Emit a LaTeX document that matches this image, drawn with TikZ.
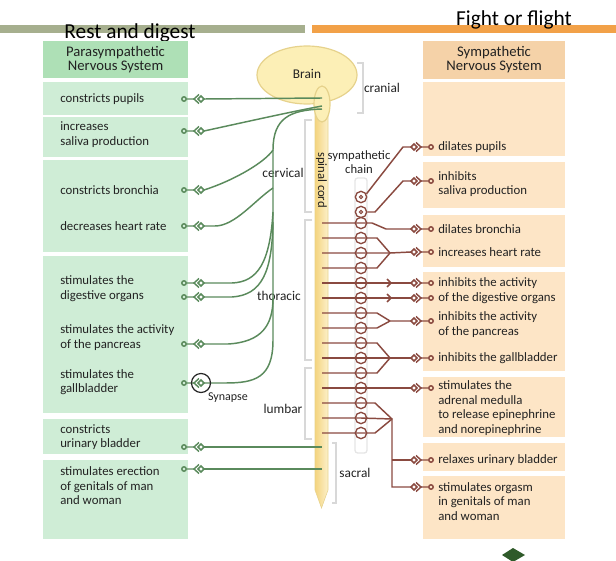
\documentclass[tikz,border=0pt]{standalone}
\usepackage{fontspec}
\setmainfont{Carlito}
\usetikzlibrary{calc}
\definecolor{bargreen}{HTML}{A6AF8E}
\definecolor{barorange}{HTML}{F2A148}
\definecolor{parahead}{HTML}{AEE0B6}
\definecolor{parabody}{HTML}{CFEDD6}
\definecolor{symphead}{HTML}{F5D2A8}
\definecolor{sympbody}{HTML}{FDE5C6}
\definecolor{paranerve}{HTML}{5A8A5C}
\definecolor{sympnerve}{HTML}{8A4A40}
\definecolor{brainfill}{HTML}{FCEFB6}
\definecolor{brainedge}{HTML}{E6D28C}
\definecolor{cordleft}{HTML}{F4D47E}
\definecolor{cordright}{HTML}{FCF0CA}
\definecolor{inktext}{HTML}{222222}
\definecolor{bracketgray}{HTML}{D8D8D8}
\definecolor{logogreen}{HTML}{2F5A2A}
\tikzset{
  pnerve/.style={draw=paranerve, line width=1.1pt},
  snerve/.style={draw=sympnerve, line width=1.1pt},
  effect/.style={anchor=west, align=left, inner sep=0pt, text=inktext, font=\fontsize{9.6}{10.9}\selectfont},
  regiontxt/.style={inner sep=0pt, text=inktext, font=\fontsize{10}{11.2}\selectfont},
  headtxt/.style={align=center, inner sep=0pt, text=inktext, font=\fontsize{11}{10.5}\selectfont},
  titletxt/.style={inner sep=0pt, text=black, font=\fontsize{16}{18}\selectfont},
  bracket/.style={draw=bracketgray, line width=0.9pt},
  ganglion/.style={circle, draw=sympnerve, line width=1pt, minimum size=8.5pt, inner sep=0pt}
}
% axon ending on the parasympathetic side, #1 = tip of the knob
\def\paraend(#1){%
  \draw[pnerve] ($(#1)+(-20,0)$) circle (2.2) ($(#1)+(-17.8,0)$) -- ($(#1)+(-10,0)$);
  \draw[pnerve, fill=white] ($(#1)+(-6,0)$) -- ($(#1)+(-3,-3)$) -- (#1) -- ($(#1)+(-3,3)$) -- cycle;
  \draw[pnerve] ($(#1)+(-5,-4.5)$) -- ($(#1)+(-10,0)$) -- ($(#1)+(-5,4.5)$);}
% same ending on the sympathetic side
\def\sympend(#1){%
  \draw[snerve, fill=white] (#1) -- ($(#1)+(3,-3)$) -- ($(#1)+(6,0)$) -- ($(#1)+(3,3)$) -- cycle;
  \draw[snerve] ($(#1)+(5,-4.5)$) -- ($(#1)+(10,0)$) -- ($(#1)+(5,4.5)$);
  \draw[snerve] ($(#1)+(10,0)$) -- ($(#1)+(17.8,0)$) ($(#1)+(20,0)$) circle (2.2);}
\def\midsyn(#1){%
  \draw[snerve] ($(#1)+(-3,-4)$) -- ($(#1)+(1,0)$) -- ($(#1)+(-3,4)$);}

\begin{document}
\begin{tikzpicture}[x=0.75pt, y=-0.75pt]
%%%%% START %%%%%
\useasboundingbox (0,0) rectangle (616,560);

\fill[bargreen] (0,25) rectangle (305,33);
\fill[barorange] (312,25) rectangle (616,33);
\node[titletxt, anchor=base] (rest) at (130,39) {Rest and digest};
\node[titletxt, anchor=base] (fight) at (514,26) {Fight or flight};

% columns
\fill[parahead] (43,41) rectangle (188,78);
\foreach \t/\b in {82/115,117/157,160/252,256/413,419/454,460/539}
  \fill[parabody] (43,\t) rectangle (188,\b);
\node[headtxt] (parahd) at (115.5,60) {Parasympathetic\\Nervous System};

\fill[symphead] (423,41) rectangle (565,79);
\foreach \t/\b in {82/156,162/208,215/267,272/371,377/437,443/471,476/539}
  \fill[sympbody] (423,\t) rectangle (565,\b);
\node[headtxt] (symphd) at (494,60) {Sympathetic\\Nervous System};

% brain and cord
\draw[brainedge, fill=brainfill, line width=0.9pt] (307,75) ellipse [x radius=50, y radius=29];
\node[regiontxt] (brain) at (307,74) {Brain};
\draw[draw=brainedge, left color=cordleft, right color=cordright] (315,112) -- (315,490) -- (321.5,508) -- (328,490) -- (328,112) -- cycle;
\draw[brainedge, fill=brainfill, line width=0.9pt] (322,104) ellipse [x radius=8, y radius=18];
\node[regiontxt, rotate=-90, font=\fontsize{9.5}{10}\selectfont] (cord) at (321.5,180) {spinal cord};

\draw[bracket] (357,63) -- (363,63) -- (363,113) -- (357,113);
\draw[bracket] (312,120) -- (305,120) -- (305,212) -- (312,212);
\draw[bracket] (312,220) -- (305,220) -- (305,360) -- (312,360);
\draw[bracket] (312,368) -- (305,368) -- (305,439) -- (312,439);
\draw[bracket] (332,443) -- (336,443) -- (336,503) -- (332,503);
\node[regiontxt] (cranial) at (382,88) {cranial};
\node[regiontxt] (cervical) at (283,173) {cervical};
\node[regiontxt] (thoracic) at (279,296) {thoracic};
\node[regiontxt] (lumbar) at (283,409) {lumbar};
\node[regiontxt] (sacral) at (355,473) {sacral};
\node[regiontxt, align=center, font=\fontsize{9.5}{11}\selectfont] (chain) at (359,162) {sympathetic\\chain};
\draw[draw=black!10, line width=1pt, rounded corners=2] (355,178) rectangle (367,453);

% parasympathetic nerves
\foreach \k/\y in {1/99,2/131,3/190,4/226,5/283,6/297,7/344,8/383,9/447,10/469}
  \coordinate (L\k) at (204,\y);
\coordinate (bs1) at (322,98);
\coordinate (bs2) at (322,106);
\coordinate (bs3) at (322,109);
\coordinate (sc1) at (322,447);
\coordinate (sc2) at (322,469);
\coordinate (vtop) at (273,150);
\coordinate (vbot) at (273,340);
\coordinate (jheart) at (273,188);
\coordinate (jdig1) at (273,212);
\coordinate (jdig2) at (273,222);
\coordinate (jpanc) at (273,298);

\draw[pnerve] (L1) -- (bs1);
\draw[pnerve] (L2) .. controls (250,121) and (290,112) .. (bs2);
\draw[pnerve] (bs3) .. controls (290,110) and (273,118) .. (vtop) -- (vbot) .. controls (273,378) and (255,383) .. (225,383) -- (L8);
\draw[pnerve] (L3) .. controls (235,180) and (265,162) .. (vtop);
\draw[pnerve] (L4) -- (215,226) .. controls (235,226) and (255,200) .. (jheart);
\draw[pnerve] (L5) -- (232,283) .. controls (258,282) and (270,262) .. (jdig1);
\draw[pnerve] (L6) -- (232,297) .. controls (262,295) and (272,272) .. (jdig2);
\draw[pnerve] (L7) -- (228,344) .. controls (262,342) and (273,325) .. (jpanc);
\draw[pnerve] (L9) -- (sc1);
\draw[pnerve] (L10) -- (sc2);
\foreach \k in {1,...,10} {\paraend(L\k)}
\draw[black!85, line width=0.9pt] (201,383) circle (9.5);
\node[regiontxt, font=\fontsize{9}{10}\selectfont] (synapse) at (228,398) {Synapse};

% sympathetic nerves
\node[ganglion] (gA) at (361,197) {};
\node[ganglion] (gB) at (361,212) {};
\draw[snerve, line width=0.8pt] (gA.center) circle (1.6) (gB.center) circle (1.6);
\foreach \r [count=\k] in {223,238,...,433} {
  \coordinate (c\k) at (322,\r);
  \node[ganglion] (g\k) at (361,\r) {};
}
\foreach \k/\y in {1/147,2/181,3/229,4/252,5/283,6/298,7/321,8/358,9/388,10/460,11/487}
  \coordinate (R\k) at (411,\y);
\coordinate (m1) at (390,253);
\coordinate (m2) at (390,321);
\coordinate (m3) at (390,358);
\coordinate (m4) at (392,419);
\coordinate (m4a) at (392,460);
\coordinate (m4b) at (392,487);

\draw[snerve] (gA.30) -- (403,147) -- (R1);
\draw[snerve] (gB.east) -- (375,212) -- (403,181) -- (R2);
\draw[snerve] (c1) -- (g1.center) -- (372,223) -- (386,229) -- (R3);
\draw[snerve] (c2) -- (g2.center) -- (377,238) -- (m1);
\draw[snerve] (c3) -- (g3.center) -- (m1) -- (R4);
\draw[snerve] (c4) -- (g4.center) -- (377,268) -- (m1);
\draw[snerve] (c5) -- (g5.center) -- (R5);
\draw[snerve] (c6) -- (g6.center) -- (R6);
\draw[snerve] (c7) -- (g7.center) -- (377,313) -- (m2) -- (R7);
\draw[snerve] (c8) -- (g8.center) -- (377,328) -- (m2);
\draw[snerve] (c9) -- (g9.center) -- (377,343) -- (m3);
\draw[snerve] (c10) -- (g10.center) -- (m3) -- (R8);
\draw[snerve] (c11) -- (g11.center) -- (377,373) -- (m3);
\draw[snerve] (c12) -- (g12.center) -- (R9);
\draw[snerve] (c13) -- (g13.center) -- (375,403) -- (m4);
\draw[snerve] (c14) -- (g14.center) -- (m4) -- (m4b) -- (R11);
\draw[snerve] (c15) -- (g15.center) -- (375,433) -- (m4);
\draw[snerve] (m4a) -- (R10);
\midsyn(390,283)
\midsyn(390,298)
\foreach \k in {1,...,11} {\sympend(R\k)}

% effects
\node[effect] (pupilsP) at (60,99) {constricts pupils};
\node[effect] (salivaP) at (60,134.5) {increases\\saliva production};
\node[effect] (bronchP) at (60,190) {constricts bronchia};
\node[effect] (heartP) at (60,226) {decreases heart rate};
\node[effect] (digestP) at (60,288.5) {stimulates the\\digestive organs};
\node[effect] (pancrP) at (60,337.5) {stimulates the activity\\of the pancreas};
\node[effect] (gallP) at (60,382) {stimulates the\\gallbladder};
\node[effect] (bladP) at (60,437) {constricts\\urinary bladder};
\node[effect] (genitP) at (60,486) {stimulates erection\\of genitals of man\\and woman};

\node[effect] (pupilsS) at (438,147) {dilates pupils};
\node[effect] (salivaS) at (438,184) {inhibits\\saliva production};
\node[effect] (bronchS) at (438,229) {dilates bronchia};
\node[effect] (heartS) at (438,252) {increases heart rate};
\node[effect] (digestS) at (438,290.5) {inhibits the activity\\of the digestive organs};
\node[effect] (pancrS) at (438,324.5) {inhibits the activity\\of the pancreas};
\node[effect] (gallS) at (438,358) {inhibits the gallbladder};
\node[effect] (adrenS) at (438,408) {stimulates the\\adrenal medulla\\to release epinephrine\\and norepinephrine};
\node[effect] (bladS) at (438,460) {relaxes urinary bladder};
\node[effect] (genitS) at (438,501.5) {stimulates orgasm\\in genitals of man\\and woman};

\fill[logogreen] (502,555) -- (513,548) -- (525,555) -- (513,562) -- cycle;
%%%%% END %%%%%
\end{tikzpicture}
\end{document}
